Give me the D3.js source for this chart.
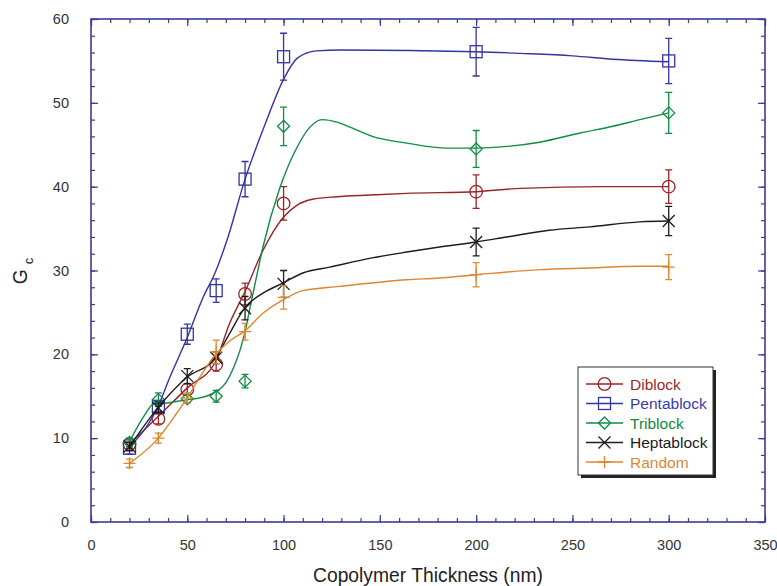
<!DOCTYPE html>
<html>
<head>
<meta charset="utf-8">
<script src="https://cdn.jsdelivr.net/npm/d3@7/dist/d3.min.js"></script>
<style>
  html, body { margin: 0; padding: 0; background: #fff; }
  svg { display: block; font-family: "Liberation Sans", Arial, sans-serif; }
</style>
</head>
<body>
<svg id="chart" width="777" height="586"></svg>
<script>
// Measured thickness values (nm)
const thickness = [20, 35, 50, 65, 80, 100, 200, 300];

// Mean Gc per copolymer architecture
const diblock    = [9.3, 12.3, 15.8, 18.8, 27.2, 38.0, 39.4, 40.0];
const pentablock = [8.8, 13.8, 22.4, 27.6, 40.9, 55.5, 56.1, 55.0];
const triblock   = [9.5, 14.6, 14.7, 15.0, 16.8, 47.2, 44.5, 48.8];
const heptablock = [9.0, 13.6, 17.4, 19.6, 25.5, 28.4, 33.4, 35.9];
const random     = [7.0, 10.0, 14.8, 20.3, 22.7, 26.8, 29.5, 30.4];

// Error bar half-widths
const diblockErr    = [0.5, 0.6, 0.7, 0.8, 1.3, 2.0, 2.0, 2.0];
const pentablockErr = [0.7, 0.6, 1.2, 1.4, 2.1, 2.8, 2.9, 2.7];
const triblockErr   = [0.5, 0.8, 0.5, 0.7, 0.8, 2.3, 2.2, 2.45];
const heptablockErr = [0.5, 0.6, 0.9, 0.7, 1.4, 1.6, 1.65, 1.75];
const randomErr     = [0.5, 0.6, 0.6, 1.4, 1.0, 1.4, 1.45, 1.5];

// Fitted trend curves, [thickness, Gc] knots
const diblockFit = [[20,9.3],[35,12.6],[50,16.0],[64.4,19.0],[72,23.7],[80,27.5],[89.3,32.4],[99.7,36.3],[107,37.8],[115,38.5],[127.7,38.8],[145,39.0],[164,39.2],[200,39.4],[223,39.8],[266,40.0],[300,40.0]];
const pentablockFit = [[20,8.9],[35,13.9],[41,17.3],[50,22.0],[58,26.7],[64.4,29.7],[70.6,33.6],[80,40.9],[90,47.2],[100,52.8],[107,55.3],[117,56.2],[130,56.3],[200,56.1],[223,55.9],[250,55.6],[271,55.2],[300,54.9]];
const triblockFit = [[20,9.6],[28,12.8],[32,14.0],[39.5,14.2],[50,14.6],[56.6,14.8],[64.4,15.5],[70,16.6],[74,18.4],[77.4,20.5],[80,22.7],[82.6,25.6],[85,28.2],[89.3,32.8],[98,39.8],[107,44.7],[113.7,47.1],[120,48.0],[127.7,47.7],[134.5,47.1],[146,46.0],[164,45.2],[185,44.6],[200,44.6],[216,44.8],[233,45.3],[254,46.4],[271,47.2],[285,48.0],[300,48.8]];
const heptablockFit = [[20,9.0],[35,13.7],[50,17.3],[64.4,19.5],[72,22.5],[80,25.6],[89.3,27.3],[99.7,28.5],[110,29.7],[124,30.4],[146,31.5],[164,32.2],[181,32.8],[200,33.4],[216,34.0],[238,34.8],[259,35.2],[285,35.8],[300,35.9]];
const randomFit = [[20,7.0],[35,10.0],[44.6,13.0],[50,14.8],[56.6,17.3],[64.4,19.9],[72,21.6],[80,22.8],[89.3,24.9],[99.7,26.5],[110,27.6],[129,28.1],[164,28.9],[181,29.1],[200,29.5],[233,30.1],[259,30.3],[285,30.5],[300,30.5]];

const seriesNames = ["Diblock", "Pentablock", "Triblock", "Heptablock", "Random"];

// Axis ticks
const xMajorTicks = [0, 50, 100, 150, 200, 250, 300, 350];
const xMinorTicks = d3.range(0, 351, 10);
const yMajorTicks = [0, 10, 20, 30, 40, 50, 60];
const yMinorTicks = d3.range(0, 61, 2);

const series = [
  { name: seriesNames[0], y: diblock,    err: diblockErr,    fit: diblockFit,    color: "#9a2326", text: "#9a2a2a", marker: "circle" },
  { name: seriesNames[1], y: pentablock, err: pentablockErr, fit: pentablockFit, color: "#3434a0", text: "#3a3aae", marker: "square" },
  { name: seriesNames[2], y: triblock,   err: triblockErr,   fit: triblockFit,   color: "#0f8c45", text: "#108a40", marker: "diamond" },
  { name: seriesNames[3], y: heptablock, err: heptablockErr, fit: heptablockFit, color: "#1c1c1c", text: "#1c1c1c", marker: "cross" },
  { name: seriesNames[4], y: random,     err: randomErr,     fit: randomFit,     color: "#dd8630", text: "#d8883a", marker: "plus" }
];

const svg = d3.select("#chart");
const plotL = 91, plotR = 765, plotT = 19, plotB = 522;

const x = d3.scaleLinear().domain([0, 350]).range([plotL, plotR]);
const y = d3.scaleLinear().domain([0, 60]).range([plotB, plotT]);

const axisColor = "#3a3a98";

// Axes with inward ticks on all four sides
function styleAxis(g) {
  g.select(".domain").remove();
  g.selectAll(".tick line").attr("stroke", axisColor).attr("stroke-width", 1.2);
}
svg.append("g").attr("transform", `translate(0,${plotB})`)
  .call(d3.axisBottom(x).tickValues(xMinorTicks).tickSize(-4).tickFormat(""))
  .call(styleAxis);
svg.append("g").attr("transform", `translate(0,${plotB})`)
  .call(d3.axisBottom(x).tickValues(xMajorTicks).tickSize(-7).tickPadding(18).tickFormat(d3.format("d")))
  .call(styleAxis)
  .call(g => g.selectAll("text").attr("fill", "#333").attr("font-size", 14.5));
svg.append("g").attr("transform", `translate(0,${plotT})`)
  .call(d3.axisTop(x).tickValues(xMinorTicks).tickSize(-4).tickFormat(""))
  .call(styleAxis);
svg.append("g").attr("transform", `translate(0,${plotT})`)
  .call(d3.axisTop(x).tickValues(xMajorTicks).tickSize(-7).tickFormat(""))
  .call(styleAxis);
svg.append("g").attr("transform", `translate(${plotL},0)`)
  .call(d3.axisLeft(y).tickValues(yMinorTicks).tickSize(-4).tickFormat(""))
  .call(styleAxis);
svg.append("g").attr("transform", `translate(${plotL},0)`)
  .call(d3.axisLeft(y).tickValues(yMajorTicks).tickSize(-7).tickPadding(22).tickFormat(d3.format("d")))
  .call(styleAxis)
  .call(g => g.selectAll("text").attr("fill", "#333").attr("font-size", 14.5));
svg.append("g").attr("transform", `translate(${plotR},0)`)
  .call(d3.axisRight(y).tickValues(yMinorTicks).tickSize(-4).tickFormat(""))
  .call(styleAxis);
svg.append("g").attr("transform", `translate(${plotR},0)`)
  .call(d3.axisRight(y).tickValues(yMajorTicks).tickSize(-7).tickFormat(""))
  .call(styleAxis);

// Plot frame
svg.append("rect")
  .attr("x", plotL).attr("y", plotT)
  .attr("width", plotR - plotL).attr("height", plotB - plotT)
  .attr("fill", "none").attr("stroke", axisColor).attr("stroke-width", 1.6);

// Axis titles
svg.append("text")
  .attr("x", (plotL + plotR) / 2).attr("y", 582)
  .attr("text-anchor", "middle").attr("font-size", 19.3).attr("fill", "#222")
  .text("Copolymer Thickness (nm)");
const yTitle = svg.append("text")
  .attr("transform", "translate(27,271) rotate(-90)")
  .attr("text-anchor", "middle").attr("font-size", 19.3).attr("fill", "#222");
yTitle.append("tspan").text("G");
yTitle.append("tspan").attr("dx", 5).attr("dy", 6).attr("font-size", 13).text("c");

// Marker glyphs
function drawMarker(g, type, cx, cy, color) {
  const s = 6;
  const common = sel => sel.attr("fill", "none").attr("stroke", color).attr("stroke-width", 1.3);
  if (type === "circle") {
    g.append("circle").attr("cx", cx).attr("cy", cy).attr("r", 6.3).call(common);
  } else if (type === "square") {
    g.append("rect").attr("x", cx - s).attr("y", cy - s).attr("width", 2 * s).attr("height", 2 * s).call(common);
  } else if (type === "diamond") {
    g.append("path").attr("d", `M${cx},${cy - s}L${cx + s},${cy}L${cx},${cy + s}L${cx - s},${cy}Z`).call(common);
  } else if (type === "cross") {
    g.append("path").attr("d", `M${cx - s},${cy - s}L${cx + s},${cy + s}M${cx - s},${cy + s}L${cx + s},${cy - s}`).call(common);
  } else if (type === "plus") {
    g.append("path").attr("d", `M${cx - s},${cy}L${cx + s},${cy}M${cx},${cy - s}L${cx},${cy + s}`).call(common);
  }
}

const fitLine = d3.line().x(d => x(d[0])).y(d => y(d[1])).curve(d3.curveMonotoneX);

series.forEach(s => {
  const g = svg.append("g");
  // trend curve
  g.append("path").datum(s.fit)
    .attr("d", fitLine).attr("fill", "none")
    .attr("stroke", s.color).attr("stroke-width", 1.4);
  // error bars
  thickness.forEach((t, i) => {
    const cx = x(t), y0 = y(s.y[i] - s.err[i]), y1 = y(s.y[i] + s.err[i]);
    g.append("path")
      .attr("d", `M${cx},${y0}L${cx},${y1}M${cx - 3.5},${y0}L${cx + 3.5},${y0}M${cx - 3.5},${y1}L${cx + 3.5},${y1}`)
      .attr("fill", "none").attr("stroke", s.color).attr("stroke-width", 1.3);
  });
  // markers
  thickness.forEach((t, i) => drawMarker(g, s.marker, x(t), y(s.y[i]), s.color));
});

// Legend
const lg = svg.append("g");
const lx = 578, ly = 367, lw = 135, lh = 108;
lg.append("rect").attr("x", lx + 3).attr("y", ly + 3).attr("width", lw).attr("height", lh).attr("fill", "#222");
lg.append("rect").attr("x", lx).attr("y", ly).attr("width", lw).attr("height", lh)
  .attr("fill", "#fff").attr("stroke", "#333").attr("stroke-width", 1);
series.forEach((s, i) => {
  const ry = 384 + i * 19.5;
  lg.append("line").attr("x1", 586).attr("x2", 623).attr("y1", ry).attr("y2", ry)
    .attr("stroke", s.color).attr("stroke-width", 1.4);
  drawMarker(lg, s.marker, 604.5, ry, s.color);
  lg.append("text").attr("x", 630).attr("y", ry).attr("dy", "0.36em")
    .attr("font-size", 15.5).attr("fill", s.text).text(s.name);
});
</script>
</body>
</html>
